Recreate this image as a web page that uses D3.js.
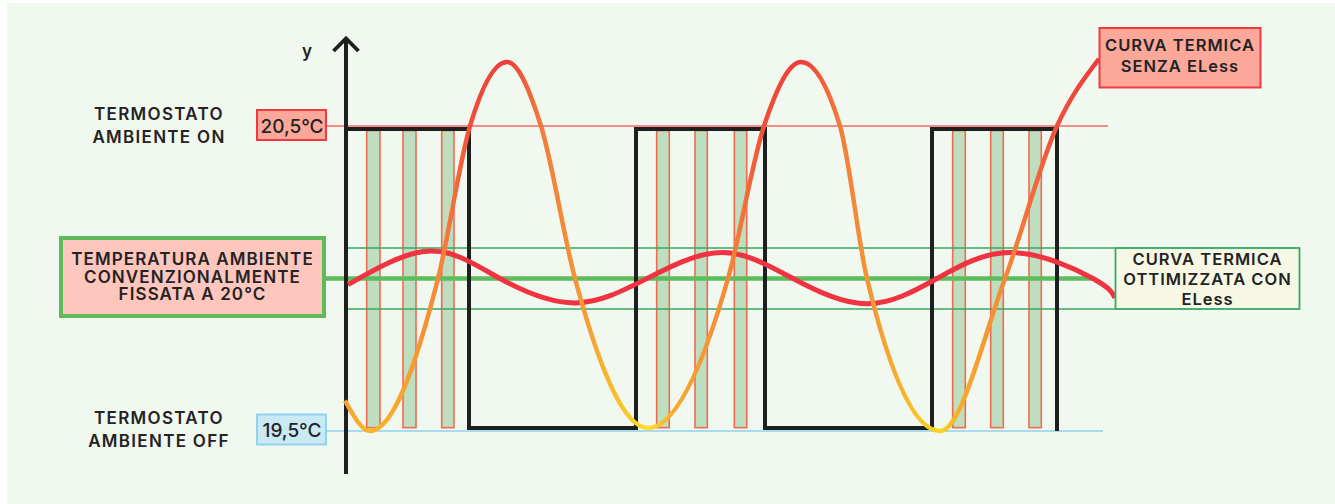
<!DOCTYPE html>
<html>
<head>
<meta charset="utf-8">
<script src="https://cdn.jsdelivr.net/npm/d3@7"></script>
<style>
html, body { margin: 0; padding: 0; background: #ffffff; }
svg { display: block; font-family: Inter, "DejaVu Sans", sans-serif; }
</style>
</head>
<body>
<div id="vis"></div>
<script>
// thermostat set points (°C)
const setpoints = [19.5, 20.5];
const setpointLabels = ["19,5°C", "20,5°C"];
const thermostatLabels = [["TERMOSTATO", "AMBIENTE OFF"], ["TERMOSTATO", "AMBIENTE ON"]];
const roomTemp = 20;
const roomLabel = ["TEMPERATURA AMBIENTE", "CONVENZIONALMENTE", "FISSATA A 20°C"];
const bandLimits = [19.9, 20.1];
const bandLabel = ["CURVA TERMICA", "OTTIMIZZATA CON", "ELess"];
const noElessLabel = ["CURVA TERMICA", "SENZA ELess"];

// time at which thermostat switches on / off (arbitrary time units)
const thermostatOn = [[0, 123], [290, 419], [586, 711]];
const thermoLevels = [19.51, 20.49];

// burner pulses while thermostat is on, with ELess
const burnerPulses = [
  [20.7, 34], [57, 70], [95.7, 108],
  [310.7, 323.3], [349, 361.3], [388.3, 400.7],
  [606.7, 619.3], [644.7, 657.3], [683, 695.3]
];
const pulseLevels = [19.511, 20.485];

// room temperature without ELess [time, °C]
const curveNoEless = [
  [-1, 19.60], [24, 19.50], [92, 20.0], [124, 20.5], [161, 20.71], [195, 20.5], [229, 20.0],
  [302, 19.51], [382, 20.0], [418, 20.5], [455, 20.71], [494, 20.5], [521, 20.0],
  [594, 19.5], [659, 20.0], [711, 20.5], [753, 20.72]
];

// room temperature with ELess [time, °C]
const curveEless = [
  [2, 19.98], [84, 20.09], [154, 20.0], [229, 19.92], [301, 20.0], [376, 20.085],
  [447, 20.0], [521, 19.917], [591, 20.0], [667, 20.085], [747, 20.0], [769, 19.936]
];

const width = 1335, height = 504;

const svg = d3.select("#vis").append("svg")
  .attr("width", width)
  .attr("height", height);

const x = d3.scaleLinear().domain([0, 1000]).range([346, 1346]);
const y = d3.scaleLinear().domain([19.5, 20.5]).range([431, 126]);

// panel background
svg.append("rect")
  .attr("x", 7).attr("y", 3)
  .attr("width", width - 7).attr("height", height - 3)
  .attr("fill", "#f1f8ef");

// gradient for the curve without ELess: colour follows the phase
const risingColor = d3.scaleLinear()
  .domain([19.5, 20.0, 20.5, 20.72])
  .range(["#f7a52e", "#f5883a", "#f0503a", "#ee3b3b"]);
const fallingColor = d3.scaleLinear()
  .domain([19.5, 19.75, 20.0, 20.5, 20.72])
  .range(["#fde224", "#f9bd22", "#f39338", "#f27c3a", "#ee3b3b"]);
const troughColors = ["#f9b824", "#fde026", "#fcd81e"];

const gx0 = x(curveNoEless[0][0]), gx1 = x(curveNoEless[curveNoEless.length - 1][0]);
const off = t => (x(t) - gx0) / (gx1 - gx0);
const stops = [];
let trough = 0;
curveNoEless.forEach((d, i) => {
  const next = curveNoEless[i + 1];
  if (i === 0) {
    stops.push([0, "#f6a232"]);
  } else if (d[1] >= 20.7) {
    stops.push([off(d[0]), "#ee3b3b"]);
  } else if (d[1] <= 19.515) {
    stops.push([off(d[0]), troughColors[trough++]]);
    // the rising side turns orange quickly after the trough
    if (next) stops.push([off(d[0] + (next[0] - d[0]) * 0.3), "#f8ab2a"]);
  } else {
    stops.push([off(d[0]), (next && next[1] > d[1]) ? risingColor(d[1]) : fallingColor(d[1])]);
  }
});

const grad = svg.append("defs").append("linearGradient")
  .attr("id", "hotGrad")
  .attr("gradientUnits", "userSpaceOnUse")
  .attr("x1", gx0).attr("x2", gx1).attr("y1", 0).attr("y2", 0);

grad.selectAll("stop")
  .data(stops)
  .join("stop")
  .attr("offset", d => Math.max(0, d[0]))
  .attr("stop-color", d => d[1]);

// burner pulses
svg.append("g")
  .selectAll("rect")
  .data(burnerPulses)
  .join("rect")
  .attr("x", d => x(d[0]))
  .attr("width", d => x(d[1]) - x(d[0]))
  .attr("y", y(pulseLevels[1]))
  .attr("height", y(pulseLevels[0]) - y(pulseLevels[1]))
  .attr("fill", "#bddfbf")
  .attr("stroke", "#f36a52")
  .attr("stroke-width", 1.6);

// comfort band lines
svg.append("g")
  .selectAll("line")
  .data(bandLimits)
  .join("line")
  .attr("x1", x(0)).attr("x2", 1115)
  .attr("y1", d => y(d)).attr("y2", d => y(d))
  .attr("stroke", "#36a862")
  .attr("stroke-width", 1.6);

svg.append("line")
  .attr("x1", 325).attr("x2", 1093)
  .attr("y1", y(roomTemp)).attr("y2", y(roomTemp))
  .attr("stroke", "#5dbd5c")
  .attr("stroke-width", 4.5);

// set point lines
svg.append("line")
  .attr("x1", 325).attr("x2", 1108)
  .attr("y1", y(setpoints[1])).attr("y2", y(setpoints[1]))
  .attr("stroke", "#f06a6a").attr("stroke-width", 1.5);
svg.append("line")
  .attr("x1", 325).attr("x2", 1103)
  .attr("y1", y(setpoints[0])).attr("y2", y(setpoints[0]))
  .attr("stroke", "#8fd2ec").attr("stroke-width", 1.5);

// thermostat square wave
const wave = [];
thermostatOn.forEach((d, i) => {
  if (i > 0) wave.push([d[0], thermoLevels[0]]);
  wave.push([d[0], thermoLevels[1]]);
  wave.push([d[1], thermoLevels[1]]);
  wave.push([d[1], i === thermostatOn.length - 1 ? setpoints[0] : thermoLevels[0]]);
});
svg.append("path")
  .attr("d", d3.line().x(d => x(d[0])).y(d => y(d[1]))(wave))
  .attr("fill", "none")
  .attr("stroke", "#1e1f1f")
  .attr("stroke-width", 4)
  .attr("stroke-linejoin", "miter");

// y axis with arrow
svg.append("line")
  .attr("x1", x(0)).attr("x2", x(0))
  .attr("y1", 38).attr("y2", 474)
  .attr("stroke", "#1e1f1f").attr("stroke-width", 4);
svg.append("path")
  .attr("d", `M${x(0) - 12.5},51 L${x(0)},38.5 L${x(0) + 12.5},51`)
  .attr("fill", "none")
  .attr("stroke", "#1e1f1f").attr("stroke-width", 3.8);
svg.append("text")
  .attr("x", 307).attr("y", 56.5)
  .attr("text-anchor", "middle")
  .attr("font-size", 17).attr("font-weight", 600)
  .attr("fill", "#222")
  .text("y");

// curves
svg.append("path")
  .attr("d", d3.line()
    .x(d => x(d[0]))
    .y(d => y(d[1]))
    .curve(d3.curveNatural)(curveEless))
  .attr("fill", "none")
  .attr("stroke", "#ef3340")
  .attr("stroke-width", 5);

svg.append("path")
  .attr("d", d3.line()
    .x(d => x(d[0]))
    .y(d => y(d[1]))
    .curve(d3.curveMonotoneX)(curveNoEless))
  .attr("fill", "none")
  .attr("stroke", "url(#hotGrad)")
  .attr("stroke-width", 4.5);

// text helper
function multiline(g, lines, cx, firstBaseline, lineHeight, size, spacing) {
  g.append("text")
    .attr("text-anchor", "middle")
    .attr("font-size", size)
    .attr("font-weight", 600)
    .attr("letter-spacing", spacing)
    .attr("fill", "#232323")
    .selectAll("tspan")
    .data(lines)
    .join("tspan")
    .attr("x", cx)
    .attr("y", (d, i) => firstBaseline + i * lineHeight)
    .text(d => d);
}

// set point boxes and thermostat labels
const spBoxes = svg.append("g");
setpoints.forEach((sp, i) => {
  const cy = y(sp) - (i === 0 ? 1.5 : 1);
  spBoxes.append("rect")
    .attr("x", 257).attr("y", cy - 15)
    .attr("width", 69).attr("height", 30)
    .attr("fill", i === 0 ? "#c9e9f5" : "#fba89b")
    .attr("stroke", i === 0 ? "#8fd3ee" : "#ef3b3f")
    .attr("stroke-width", 2);
  spBoxes.append("text")
    .attr("x", 292).attr("y", cy + 7.5)
    .attr("text-anchor", "middle")
    .attr("font-size", 19).attr("font-weight", 500)
    .attr("fill", "#232323")
    .text(setpointLabels[i]);
  multiline(spBoxes, thermostatLabels[i], 159, i === 0 ? 424.3 : 120, 22.5, 17, 1.3);
});

// room temperature box
const roomG = svg.append("g");
roomG.append("rect")
  .attr("x", 61).attr("y", y(roomTemp) - 40.5)
  .attr("width", 263).attr("height", 78)
  .attr("fill", "#ffc6be")
  .attr("stroke", "#5dbb5b")
  .attr("stroke-width", 4);
multiline(roomG, roomLabel, 192.5, 265, 17.7, 17, 1.1);

// ELess band box
const bandG = svg.append("g");
bandG.append("rect")
  .attr("x", 1115.5).attr("y", y(bandLimits[1]))
  .attr("width", 184).attr("height", y(bandLimits[0]) - y(bandLimits[1]))
  .attr("fill", "#f6f8e5")
  .attr("stroke", "#36a862")
  .attr("stroke-width", 1.8);
multiline(bandG, bandLabel, 1207.5, 265, 20.2, 16.5, 1.0);

// no ELess box
const hotG = svg.append("g");
hotG.append("rect")
  .attr("x", 1099.5).attr("y", 28)
  .attr("width", 161).attr("height", 59.5)
  .attr("fill", "#fba89b")
  .attr("stroke", "#ef3b3f")
  .attr("stroke-width", 2);
multiline(hotG, noElessLabel, 1180, 50.7, 21, 16.5, 1.0);
</script>
</body>
</html>
